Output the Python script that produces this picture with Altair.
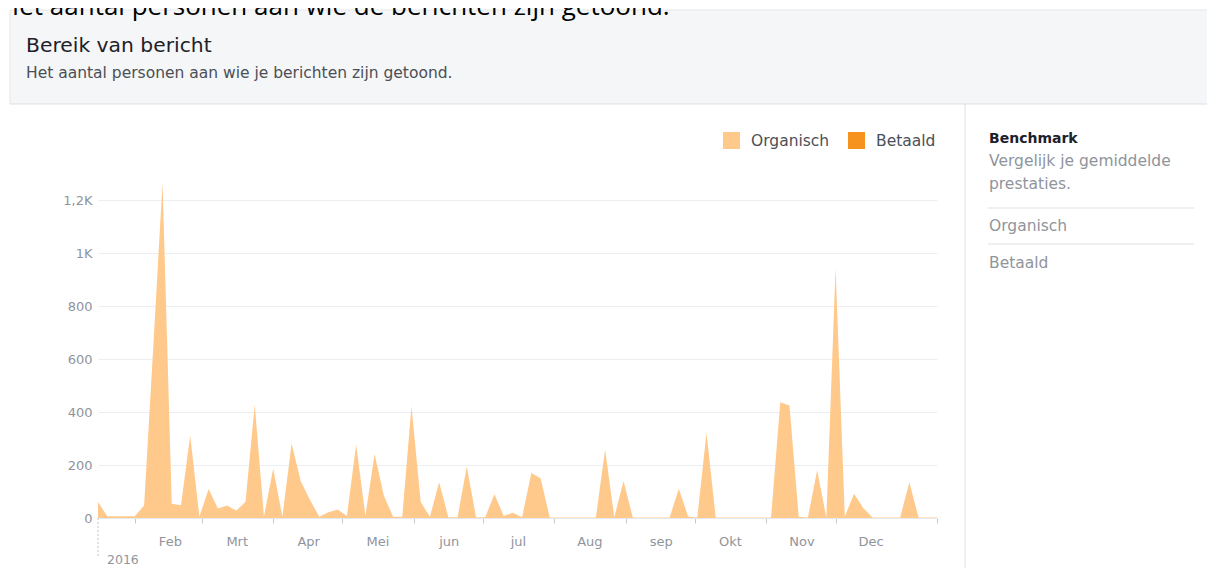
import altair as alt
import pandas as pd

# ---------------- data ----------------
series_names = ["Organisch", "Betaald"]
series_colors = ["#ffc98c", "#f6931f"]
start_date = "2016-01-16"
step = "4D"
reach_organic = [
    60, 7, 7, 7, 7, 47, 650, 1266, 54, 48,
    312, 5, 110, 36, 47, 28, 61, 428, 5, 187,
    5, 282, 138, 68, 5, 22, 32, 8, 278, 8,
    242, 85, 5, 5, 422, 60, 5, 135, 3, 3,
    195, 3, 3, 90, 8, 20, 3, 170, 150, 2,
    2, 2, 2, 2, 2, 258, 3, 140, 2, 2,
    2, 2, 2, 111, 6, 2, 322, 2, 2, 2,
    2, 2, 2, 2, 437, 425, 5, 2, 180, 2,
    945, 5, 92, 38, 2, 2, 2, 2, 135, 2,
    2, 2,
]
month_labels = ["Jan", "Feb", "Mrt", "Apr", "Mei", "jun", "jul", "Aug", "sep", "Okt", "Nov", "Dec"]
y_ticks = [0, 200, 400, 600, 800, 1000, 1200]
year_label = "2016"

top_text = "Het aantal personen aan wie de berichten zijn getoond."
title_text = "Bereik van bericht"
subtitle_text = "Het aantal personen aan wie je berichten zijn getoond."
bench_title = "Benchmark"
bench_lines = ["Vergelijk je gemiddelde", "prestaties."]
bench_items = ["Organisch", "Betaald"]

# ---------------- tables ----------------
dates = pd.date_range(start_date, periods=len(reach_organic), freq=step)
df = pd.DataFrame({
    "date": dates.strftime("%Y-%m-%dT00:00:00"),
    "reach": reach_organic,
    "series": series_names[0],
})
first, last = dates[0], dates[-1]
start_df = df.iloc[[0]].copy()
one = pd.DataFrame({"k": [0]})

FONT = "DejaVu Sans"
W, H = 839, 344
RIGHT = 1109   # right edge of canvas in plot coordinates
BOTTOM = 394   # bottom edge of canvas in plot coordinates

x_scale = alt.Scale(domain=[
    alt.DateTime(year=first.year, month=first.month, date=first.day),
    alt.DateTime(year=last.year, month=last.month, date=last.day),
])
tick_values = [alt.DateTime(year=2016, month=m, date=1) for m in range(2, 13)] + [
    alt.DateTime(year=last.year, month=last.month, date=last.day)
]
month_arr = "[" + ",".join("'%s'" % m for m in month_labels) + "]"

area = alt.Chart(df).mark_area(interpolate="linear", opacity=1).encode(
    x=alt.X("date:T", scale=x_scale, title=None,
            axis=alt.Axis(values=tick_values, grid=False,
                          labelExpr="month(datum.value) == 0 ? '' : %s[month(datum.value)]" % month_arr,
                          labelOffset=35, labelPadding=12, tickSize=5,
                          tickColor="#c4c8cd", domainColor="#e6e8eb",
                          labelColor="#90949c", labelFont=FONT, labelFontSize=13)),
    y=alt.Y("reach:Q", scale=alt.Scale(domain=[0, 1300], nice=False), title=None,
            axis=alt.Axis(values=y_ticks, format="d", domain=False, ticks=False,
                          labelExpr="datum.value == 1000 ? '1K' : datum.value == 1200 ? '1,2K' : datum.label",
                          gridColor="#eceef1", labelColor="#90949c", labelFont=FONT,
                          labelFontSize=13, labelPadding=6)),
    color=alt.Color("series:N", scale=alt.Scale(domain=series_names, range=series_colors),
                    legend=alt.Legend(title=None, orient="none", direction="horizontal",
                                      legendX=625, legendY=-42, symbolType="square",
                                      symbolSize=289, symbolStrokeWidth=0, symbolOpacity=1,
                                      labelFont=FONT, labelFontSize=15.5, labelColor="#4b4f56",
                                      labelOffset=11, columnPadding=18, padding=0)),
)

start_rule = alt.Chart(start_df).mark_rule(strokeDash=[2, 2], color="#bfc4ca").encode(
    x="date:T", y=alt.value(H), y2=alt.value(H + 38))
year_text = alt.Chart(start_df).mark_text(align="left", baseline="middle", dx=9, font=FONT,
                                          fontSize=12.5, color="#90949c").encode(
    x="date:T", y=alt.value(H + 42), text=alt.value(year_label))


def rect(x, x2, y, y2, color):
    return alt.Chart(one).mark_rect(color=color).encode(
        x=alt.value(x), x2=alt.value(x2), y=alt.value(y), y2=alt.value(y2))


def rule(x, x2, y, y2, color):
    return alt.Chart(one).mark_rule(color=color, strokeWidth=1).encode(
        x=alt.value(x), x2=alt.value(x2), y=alt.value(y), y2=alt.value(y2))


def text(s, x, y, size, color, weight="normal", font=FONT):
    return alt.Chart(one).mark_text(align="left", baseline="alphabetic", font=font,
                                    fontSize=size, color=color, fontWeight=weight).encode(
        x=alt.value(x), y=alt.value(y), text=alt.value(s))


layers = [
    rect(-88, RIGHT, -164, -70, "#f5f6f7"),
    rule(-88, RIGHT, -164, -164, "#e5e6e9"),
    rule(-88, -88, -164, -70, "#e5e6e9"),
    rule(-88, RIGHT, -70, -70, "#dddfe2"),
    rule(867, 867, -70, BOTTOM, "#dddfe2"),
    rule(890, 1096, 34, 34, "#dddfe2"),
    rule(890, 1096, 70, 70, "#dddfe2"),
    text(top_text, -98, -159, 26, "#000000", font="Open Sans"),
    text(title_text, -72, -122, 20.3, "#1d2129"),
    text(subtitle_text, -72, -96, 15.5, "#4b4f56"),
    text(bench_title, 891, -31, 14, "#1d2129", weight="bold"),
    text(bench_lines[0], 891, -8, 15.5, "#90949c"),
    text(bench_lines[1], 891, 15, 15.5, "#90949c"),
    text(bench_items[0], 891, 57, 15.5, "#90949c"),
    text(bench_items[1], 891, 94, 15.5, "#90949c"),
    area,
    start_rule,
    year_text,
]

chart = alt.layer(*layers).properties(
    width=W, height=H,
    autosize=alt.AutoSizeParams(type="none"),
    padding={"left": 90, "top": 166, "right": 270, "bottom": 50},
    background="white",
).configure_view(stroke=None)

chart.save("out.html", embed_options={"renderer": "svg", "actions": False})
